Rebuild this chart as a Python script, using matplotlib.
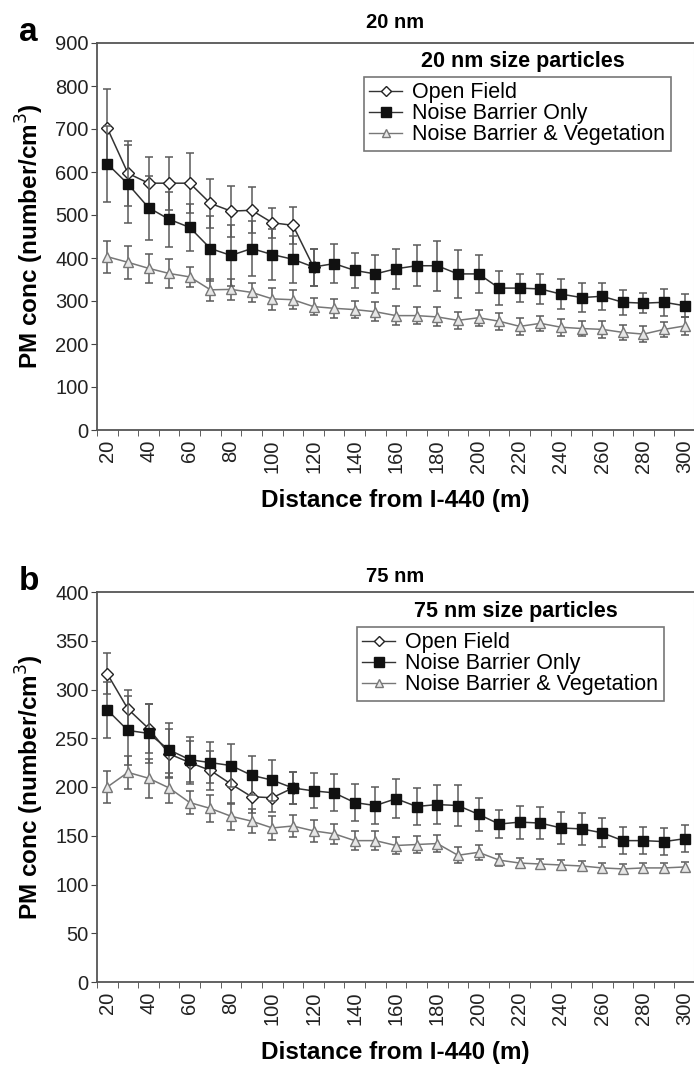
import numpy as np
import matplotlib
matplotlib.use("Agg")
import matplotlib.pyplot as plt
from matplotlib.lines import Line2D

plt.rcParams['font.family'] = ['Liberation Sans', 'DejaVu Sans']

dist = list(range(20, 310, 10))

# panel a: 20 nm
of_a = [702, 597, 574, 574, 574, 527, 509, 511, 482, 476, 379]
of_a_err = [90, 75, 62, 62, 70, 57, 59, 53, 35, 43, 43]
nb_a = [619, 572, 517, 490, 471, 422, 406, 422, 408, 397, 379, 387, 371, 363, 375,
        382, 382, 363, 363, 330, 330, 328, 316, 308, 311, 297, 295, 297, 289]
nb_a_err = [88, 90, 74, 64, 55, 75, 70, 65, 60, 55, 43, 45, 40, 45, 47,
            48, 58, 56, 45, 39, 33, 35, 35, 34, 31, 29, 24, 31, 27]
nbv_a = [403, 390, 376, 364, 356, 326, 327, 320, 305, 303, 287, 283, 280, 275, 266,
         266, 263, 255, 261, 253, 241, 248, 239, 236, 234, 227, 223, 234, 242]
nbv_a_err = [37, 38, 33, 33, 24, 25, 25, 22, 25, 22, 20, 22, 20, 22, 22,
             20, 22, 20, 18, 20, 20, 18, 20, 18, 20, 18, 18, 18, 20]

# panel b: 75 nm
of_b = [316, 280, 260, 234, 225, 217, 203, 190, 189, 199]
of_b_err = [21, 19, 25, 25, 22, 20, 20, 17, 15, 16]
nb_b = [279, 258, 255, 238, 228, 225, 222, 212, 207, 199, 196, 194, 184, 181, 188,
        180, 182, 181, 172, 162, 164, 163, 158, 157, 153, 145, 145, 144, 147]
nb_b_err = [29, 35, 30, 28, 23, 21, 22, 20, 21, 16, 18, 19, 19, 19, 20,
            19, 20, 21, 17, 14, 17, 16, 16, 16, 15, 14, 14, 14, 14]
nbv_b = [200, 215, 209, 199, 184, 178, 170, 165, 158, 160, 155, 152, 145, 145, 140,
         141, 142, 130, 133, 125, 122, 121, 120, 119, 117, 116, 117, 117, 118]
nbv_b_err = [16, 17, 20, 15, 12, 14, 14, 12, 12, 11, 11, 10, 10, 10, 9,
             9, 9, 8, 8, 6, 5, 5, 5, 5, 5, 5, 5, 5, 5]

panels = [
    dict(letter='a', title='20 nm', leg='20 nm size particles', ymax=900, ystep=100,
         of=of_a, of_err=of_a_err, nb=nb_a, nb_err=nb_a_err, nbv=nbv_a, nbv_err=nbv_a_err),
    dict(letter='b', title='75 nm', leg='75 nm size particles', ymax=400, ystep=50,
         of=of_b, of_err=of_b_err, nb=nb_b, nb_err=nb_b_err, nbv=nbv_b, nbv_err=nbv_b_err),
]

W, H = 694, 1071
fig = plt.figure(figsize=(W / 100, H / 100), dpi=100)

# plot area pixel boxes (left, top, right, bottom), legend frame boxes, title heights
boxes = [(97, 43, 694, 430), (97, 592, 694, 982)]
legboxes = [(364, 77, 682, 150), (357, 627, 675, 700)]
title_y = [22, 576]
line_c = '#333333'
err_c = '#5a5a5a'
tri_c = '#777777'

for p, (l, t, r, b), (ll, lt, lr, lb), ty in zip(panels, boxes, legboxes, title_y):
    ax = fig.add_axes([l / W, 1 - b / H, (r - l) / W, (b - t) / H])
    n_of = len(p['of'])
    ax.errorbar(dist, p['nbv'], yerr=p['nbv_err'], color=tri_c, ecolor=err_c, elinewidth=1.1,
                capsize=3.2, capthick=1.1, marker='^', markersize=7, mfc='#e6e6e6',
                mec=tri_c, lw=1.1, zorder=3)
    ax.errorbar(dist[:n_of], p['of'], yerr=p['of_err'], color=line_c, ecolor=err_c, elinewidth=1.1,
                capsize=3.2, capthick=1.1, marker='D', markersize=6, mfc='white',
                mec='#222222', lw=1.1, zorder=4)
    ax.errorbar(dist, p['nb'], yerr=p['nb_err'], color=line_c, ecolor=err_c, elinewidth=1.1,
                capsize=3.2, capthick=1.1, marker='s', markersize=7.5, mfc='#111111',
                mec='#111111', lw=1.1, zorder=5)

    ax.set_xlim(15, 304.5)
    ax.set_ylim(0, p['ymax'])
    ax.set_yticks(np.arange(0, p['ymax'] + 1, p['ystep']))
    ax.set_xticks(np.arange(20, 301, 20))
    ax.set_xticks(np.arange(15, 305, 10), minor=True)
    ax.tick_params(axis='x', which='major', length=0, labelrotation=90, labelsize=14.5,
                   pad=7, labelcolor='#222222')
    ax.tick_params(axis='x', which='minor', length=4, direction='out', color='#444444')
    ax.tick_params(axis='y', length=4, direction='out', labelsize=14.5, labelcolor='#222222',
                   color='#444444', pad=2)
    for s in ['left', 'bottom', 'top']:
        ax.spines[s].set_color('#555555')
        ax.spines[s].set_linewidth(1.3)
    ax.spines['right'].set_color('#dddddd')

    ax.set_ylabel('PM conc (number/cm$^3$)', fontsize=17.5, fontweight='bold', va='center')
    ax.yaxis.set_label_coords((30 - l) / (r - l), 0.5)
    ax.set_xlabel('Distance from I-440 (m)', fontsize=17.5, fontweight='bold', va='center')
    ax.xaxis.set_label_coords(0.5, -71 / (b - t))
    fig.text((l + r) / 2 / W, 1 - ty / H, p['title'], fontsize=14.5, fontweight='bold',
             ha='center', va='center')
    fig.text(19 / W, 1 - (t - 2) / H, p['letter'], fontsize=24, fontweight='bold',
             va='baseline', ha='left')

    handles = [
        Line2D([], [], color=line_c, marker='D', markersize=5, mfc='white', mec='#222222', lw=1),
        Line2D([], [], color=line_c, marker='s', markersize=6.5, mfc='#111111', mec='#111111', lw=1),
        Line2D([], [], color=tri_c, marker='^', markersize=6, mfc='#e6e6e6', mec=tri_c, lw=1),
    ]
    leg = ax.legend(handles, ['Open Field', 'Noise Barrier Only', 'Noise Barrier & Vegetation'],
                    loc='upper left',
                    bbox_to_anchor=((ll - l) / (r - l), 1 - (lt - t) / (b - t)),
                    fontsize=15.5, frameon=True, fancybox=False, handlelength=1.5,
                    handletextpad=0.5, borderpad=0.25, labelspacing=0.0,
                    borderaxespad=0)
    leg.get_frame().set_edgecolor('#555555')
    leg.get_frame().set_linewidth(1.2)
    ax.text(((ll + lr) / 2 - l) / (r - l), 1 - (lt - 15 - t) / (b - t), p['leg'],
            transform=ax.transAxes, ha='center', va='center', fontsize=15.5, fontweight='bold')

fig.savefig('out.png', dpi=100)
